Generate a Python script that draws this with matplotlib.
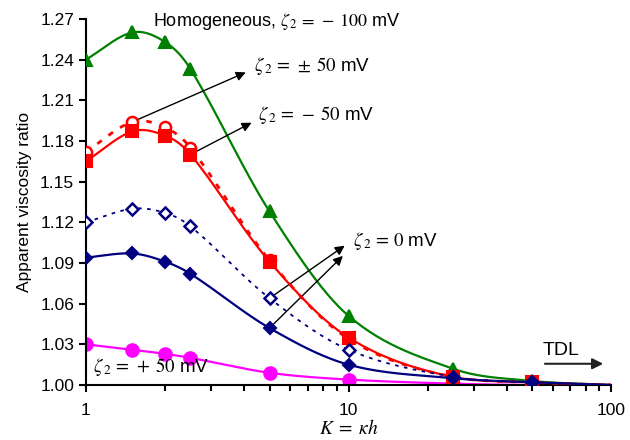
import numpy as np
import matplotlib
matplotlib.use("Agg")
import matplotlib.pyplot as plt
from matplotlib.ticker import FixedLocator, NullFormatter, FixedFormatter

plt.rcParams['font.family'] = ['Liberation Sans', 'DejaVu Sans']
plt.rcParams['mathtext.fontset'] = 'stix'

# ---- data ----
K = [1, 1.5, 2, 2.5, 5, 10, 25, 50, 100]
homog_m100 = [1.240, 1.260, 1.253, 1.233, 1.128, 1.051, 1.012, 1.003, 1.000]
neg50 = [1.165, 1.187, 1.184, 1.170, 1.091, 1.035, 1.006, 1.002, 1.000]
pm50 = [1.172, 1.194, 1.190, 1.175, 1.092, 1.034, 1.006, 1.002, 1.000]
zero_open = [1.120, 1.130, 1.127, 1.117, 1.064, 1.026, 1.006, 1.002, 1.000]
zero_filled = [1.094, 1.097, 1.091, 1.082, 1.042, 1.015, 1.005, 1.002, 1.000]
pos50 = [1.030, 1.026, 1.023, 1.020, 1.009, 1.004, 1.001, 1.000, 1.000]
n_marked = 8  # markers shown for the first 8 K values

yticks = [1.00, 1.03, 1.06, 1.09, 1.12, 1.15, 1.18, 1.21, 1.24, 1.27]
xticks = [1, 10, 100]
xticklabels = ['1', '10', '100']

fig = plt.figure(figsize=(6.3, 4.4), dpi=100)
ax = fig.add_axes([0.1365, 0.125, 0.8335, 0.832])
ax.set_xscale('log')
ax.set_xlim(1, 100)
ax.set_ylim(1.0, 1.27)


def smooth_curve(x, y, nseg=30):
    """Smoothed line through the data (Hermite in log-x)."""
    lx = np.log10(np.asarray(x, float))
    yy = np.asarray(y, float)
    n = len(lx)
    d = np.diff(yy) / np.diff(lx)
    m = np.zeros(n)
    m[0] = d[0]
    m[-1] = d[-1]
    for i in range(1, n - 1):
        m[i] = (yy[i + 1] - yy[i - 1]) / (lx[i + 1] - lx[i - 1])
        if d[i - 1] * d[i] > 0:  # monotone: limit to avoid overshoot
            lim = 3 * min(abs(d[i - 1]), abs(d[i]))
            if abs(m[i]) > lim:
                m[i] = np.sign(m[i]) * lim
    xs, ys = [], []
    for i in range(n - 1):
        h = lx[i + 1] - lx[i]
        t = np.linspace(0, 1, nseg, endpoint=(i == n - 2))
        h00 = 2 * t**3 - 3 * t**2 + 1
        h10 = t**3 - 2 * t**2 + t
        h01 = -2 * t**3 + 3 * t**2
        h11 = t**3 - t**2
        xs.append(lx[i] + t * h)
        ys.append(h00 * yy[i] + h10 * h * m[i] + h01 * yy[i + 1] + h11 * h * m[i + 1])
    return 10 ** np.concatenate(xs), np.concatenate(ys)


def series(y, color, ls, lw, marker, ms, mfc, mew=1.5, z=3):
    sx, sy = smooth_curve(K, y)
    ax.plot(sx, sy, color=color, ls=ls, lw=lw, zorder=z)
    ax.plot(K[:n_marked], y[:n_marked], ls='none', marker=marker, ms=ms,
            mfc=mfc, mec=color, mew=mew, zorder=z + 0.5)


series(pos50, '#ff00ff', '-', 1.6, 'o', 9, '#ff00ff', z=2)
series(homog_m100, '#008000', '-', 1.6, '^', 9, '#008000', z=3)
series(pm50, '#ff0000', (0, (2, 3)), 2.0, 'o', 8, 'white', mew=1.8, z=4)
series(neg50, '#ff0000', '-', 1.6, 's', 8, '#ff0000', z=5)
series(zero_open, '#000080', (0, (2, 3)), 1.3, 'D', 6, 'white', mew=1.8, z=6)
series(zero_filled, '#000080', '-', 1.6, 'D', 6.5, '#000080', z=7)

# axes styling
for s in ['top', 'right']:
    ax.spines[s].set_visible(False)
ax.spines['left'].set_linewidth(1.5)
ax.spines['bottom'].set_linewidth(1.5)
ax.yaxis.set_major_locator(FixedLocator(yticks))
ax.set_yticklabels([f'{v:.2f}' for v in yticks])
ax.xaxis.set_major_locator(FixedLocator(xticks))
ax.xaxis.set_major_formatter(FixedFormatter(xticklabels))
minors = [m * d for d in (1, 10) for m in range(2, 10)]
ax.xaxis.set_minor_locator(FixedLocator(minors))
ax.xaxis.set_minor_formatter(NullFormatter())
ax.tick_params(axis='both', which='major', direction='out', length=5, width=1.5,
               labelsize=12.5, colors='black')
ax.tick_params(axis='x', which='minor', direction='out', length=4, width=1.5)
ax.tick_params(axis='x', which='major', pad=8)

ax.set_ylabel('Apparent viscosity ratio', fontsize=12.5, labelpad=6)
ax.set_xlabel(r'$K\;=\;\kappa h$', fontsize=14, labelpad=1)

# annotations
z2 = r'$\zeta_{\,2}\,=\,'
ax.text(0.128, 0.993, 'Homogeneous, ' + z2 + r'-\;100$ mV', transform=ax.transAxes,
        fontsize=13, va='center', ha='left')
ax.text(0.32, 0.872, z2 + r'\pm\;50$ mV', transform=ax.transAxes,
        fontsize=13.5, va='center', ha='left')
ax.text(0.328, 0.737, z2 + r'-\;50$ mV', transform=ax.transAxes,
        fontsize=13.5, va='center', ha='left')
ax.text(0.508, 0.393, z2 + r'0$ mV', transform=ax.transAxes,
        fontsize=13.5, va='center', ha='left')
ax.text(0.013, 0.048, z2 + r'+\;50$ mV', transform=ax.transAxes,
        fontsize=13.5, va='center', ha='left')
ax.text(0.905, 0.095, 'TDL', transform=ax.transAxes, fontsize=14,
        va='center', ha='center')

arrow = dict(arrowstyle='-|>', color='black', lw=1.0, mutation_scale=14)
ax.annotate('', xy=(0.309, 0.857), xytext=(K[1], pm50[1]),
            xycoords='axes fraction', textcoords='data', arrowprops=arrow)
ax.annotate('', xy=(0.32, 0.72), xytext=(K[3], neg50[3]),
            xycoords='axes fraction', textcoords='data', arrowprops=arrow)
ax.annotate('', xy=(0.497, 0.385), xytext=(K[4], zero_open[4]),
            xycoords='axes fraction', textcoords='data', arrowprops=arrow)
ax.annotate('', xy=(0.493, 0.358), xytext=(K[4], zero_filled[4]),
            xycoords='axes fraction', textcoords='data', arrowprops=arrow)
ax.annotate('', xy=(0.985, 0.058), xytext=(0.874, 0.058), xycoords='axes fraction',
            arrowprops=dict(arrowstyle='-|>', color='#222222', lw=1.5,
                            mutation_scale=16, shrinkA=0, shrinkB=0))

fig.savefig('out.png', dpi=100)
